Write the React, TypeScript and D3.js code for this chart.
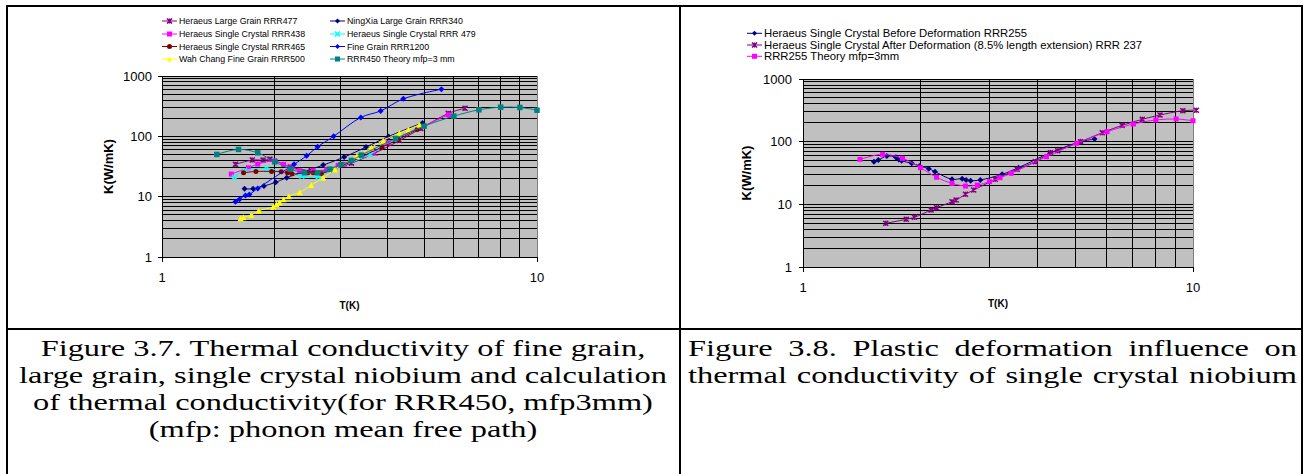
import React, { useEffect, useRef } from 'react';
import * as d3 from 'd3';

// ---------- Figure 3.7 : T (K) / K (W/mK) per series ----------
const largeGrain477T = [1.57, 1.74, 1.86, 1.94, 2.2, 2.5, 2.8, 3.2, 3.7, 4.3, 4.9, 5.8, 6.43];
const largeGrain477K = [34.3, 40.4, 40.4, 41.9, 31, 27, 28, 36, 53, 85, 135, 240, 293];

const ningXia340T = [1.66, 1.75, 1.87, 2.01, 2.15, 2.69, 3.06, 3.5, 4.02, 4.95];
const ningXia340K = [13.5, 13.5, 15.0, 17.3, 20.6, 33.4, 45.3, 66.3, 99.6, 167];

const single438T = [1.53, 1.7, 1.8, 2.0, 2.11, 2.22, 2.33, 2.53, 2.75, 2.95, 3.07, 3.66, 4.01, 5.8];
const single438K = [23.7, 30.1, 34.7, 39.3, 34.3, 30.6, 26.9, 26.9, 28, 33, 34.3, 54.8, 78, 227];

const single479T = [1.56, 1.66, 1.9, 2.36, 2.61, 2.86, 3.59, 4.3];
const single479K = [20.9, 26.9, 29.4, 21.9, 21.3, 28.3, 50.2, 100];

const single465T = [1.65, 1.78, 1.96, 2.08, 2.16, 2.22, 2.45, 2.53, 2.66, 3.86, 4.27, 4.79];
const single465K = [24.9, 26.2, 26.2, 25.9, 24.9, 23.9, 24.9, 24.9, 24.3, 66.3, 88.9, 130];

const fine1200T = [1.57, 1.61, 1.67, 1.71, 1.8, 2.25, 2.43, 2.6, 2.87, 3.39, 3.83, 4.4, 5.56];
const fine1200K = [8.2, 9.1, 10.5, 10.9, 13.7, 34.3, 47.5, 67, 100, 206, 264, 418, 604];

const wahChang500T = [1.62, 1.65, 1.73, 1.81, 1.98, 2.02, 2.06, 2.11, 2.18, 2.33, 2.5, 2.69, 2.89, 3.31, 3.62, 3.89, 4.3, 4.54, 4.86];
const wahChang500K = [4.37, 4.54, 4.96, 5.84, 6.8, 7.54, 8.05, 9.02, 10.2, 11.8, 15.6, 20.6, 28.3, 47, 65.5, 85.5, 114, 130, 155];

const theory450T = [1.4, 1.6, 1.8, 2.0, 2.2, 2.4, 2.6, 2.8, 3.0, 3.2, 3.4, 4.2, 5, 6, 7, 8, 9, 10];
const theory450K = [50.1, 60.7, 53.3, 37.8, 28.6, 24.9, 24.9, 28.6, 34, 39.9, 48.9, 92.3, 147.5, 216, 275, 304, 301, 271];

// ---------- Figure 3.8 ----------
const beforeDefT = [1.52, 1.56, 1.64, 1.73, 1.76, 1.79, 1.9, 1.99, 2.1, 2.18, 2.41, 2.56, 2.62, 2.69, 2.85, 3.24, 3.57, 4.31, 5.15, 5.59];
const beforeDefK = [47.9, 50.9, 59, 56.3, 52.1, 49.5, 45.2, 40.9, 37.1, 33.2, 25.1, 25.7, 24.5, 23.8, 24.5, 30.1, 38.5, 66.6, 100, 110];

const afterDefT = [1.63, 1.84, 1.93, 2.13, 2.2, 2.41, 2.47, 2.61, 2.74, 3.11, 3.54, 3.94, 4.31, 4.5, 5.15, 5.85, 6.58, 7.41, 8.23, 9.42, 10.2];
const afterDefK = [4.98, 5.77, 6.21, 8.12, 8.83, 11.0, 11.7, 14.5, 16.9, 25.1, 36.2, 47.9, 66.6, 71.8, 100, 139, 182, 227, 266, 312, 318];

const theory255T = [1.4, 1.6, 1.8, 2.0, 2.2, 2.41, 2.61, 2.8, 3.01, 3.2, 3.42, 4.21, 5.03, 6.02, 7.03, 8.03, 9.05, 10];
const theory255K = [52.3, 62.8, 54.2, 38.4, 27, 21.6, 19.6, 20.3, 23, 26.6, 31.3, 57.5, 94.2, 144, 191, 222, 230, 216];

// tick labels and captions
const kTickLabels = ['1', '10', '100', '1000'];
const tTickLabels = ['1', '10'];
const fig37Caption = [
  'Figure 3.7. Thermal conductivity of fine grain,',
  'large grain, single crystal niobium and calculation',
  'of thermal conductivity(for RRR450, mfp3mm)',
  '(mfp: phonon mean free path)',
];
const fig38Caption = [
  'Figure 3.8. Plastic deformation influence on',
  'thermal conductivity of single crystal niobium',
];

const leftSeries = [
  { name: 'Heraeus Large Grain RRR477', t: largeGrain477T, k: largeGrain477K, color: '#800080', marker: 'star', size: 5 },
  { name: 'NingXia Large Grain RRR340', t: ningXia340T, k: ningXia340K, color: '#000080', marker: 'diamond', size: 6 },
  { name: 'Heraeus Single Crystal RRR438', t: single438T, k: single438K, color: '#ff00ff', marker: 'square', size: 5 },
  { name: 'Heraeus Single Crystal RRR 479', t: single479T, k: single479K, color: '#00ffff', marker: 'x', size: 5 },
  { name: 'Heraeus Single Crystal RRR465', t: single465T, k: single465K, color: '#800000', marker: 'circle', size: 5 },
  { name: 'Fine Grain RRR1200', t: fine1200T, k: fine1200K, color: '#0000ff', marker: 'diamond', size: 6 },
  { name: 'Wah Chang Fine Grain RRR500', t: wahChang500T, k: wahChang500K, color: '#ffff00', marker: 'triangle', size: 6 },
  { name: 'RRR450 Theory mfp=3 mm', t: theory450T, k: theory450K, color: '#008080', marker: 'square', size: 5.5 },
];

const rightSeries = [
  { name: 'Heraeus Single Crystal Before Deformation RRR255', t: beforeDefT, k: beforeDefK, color: '#000080', marker: 'diamond', size: 6 },
  { name: 'Heraeus Single Crystal After Deformation (8.5% length extension) RRR 237', t: afterDefT, k: afterDefK, color: '#800080', marker: 'star', size: 5 },
  { name: 'RRR255 Theory mfp=3mm', t: theory255T, k: theory255K, color: '#ff00ff', marker: 'square', size: 5 },
];

const SANS = '"Liberation Sans", Arial, sans-serif';
const SERIF = '"Liberation Serif", "Times New Roman", serif';

function drawMarker(g, type, x, y, color, size) {
  const h = size / 2;
  if (type === 'diamond') {
    g.append('path').attr('d', `M${x},${y - h}L${x + h},${y}L${x},${y + h}L${x - h},${y}Z`).attr('fill', color);
  } else if (type === 'square') {
    g.append('rect').attr('x', x - h).attr('y', y - h).attr('width', size).attr('height', size).attr('fill', color);
  } else if (type === 'triangle') {
    g.append('path').attr('d', `M${x},${y - h}L${x + h},${y + h}L${x - h},${y + h}Z`).attr('fill', color);
  } else if (type === 'circle') {
    g.append('circle').attr('cx', x).attr('cy', y).attr('r', h).attr('fill', color);
  } else {
    const p = `M${x - h},${y - h}L${x + h},${y + h}M${x - h},${y + h}L${x + h},${y - h}` + (type === 'star' ? `M${x},${y - h}L${x},${y + h}` : '');
    g.append('path').attr('d', p).attr('stroke', color).attr('stroke-width', 1.5).attr('fill', 'none');
  }
}

function drawPlot(root, p, series) {
  const x = d3.scaleLog().domain([1, 10]).range([p.left, p.right]);
  const y = d3.scaleLog().domain([1, 1000]).range([p.bottom, p.top]);
  const g = root.append('g');

  g.append('rect')
    .attr('x', p.left).attr('y', p.top)
    .attr('width', p.right - p.left).attr('height', p.bottom - p.top)
    .attr('fill', '#c0c0c0');

  const grid = g.append('g').attr('stroke', '#000').attr('stroke-width', 1).attr('shape-rendering', 'crispEdges');
  y.ticks().forEach(v => {
    grid.append('line').attr('x1', p.left).attr('x2', p.right).attr('y1', y(v)).attr('y2', y(v));
  });
  x.ticks().filter(v => v > 1 && v < 10).forEach(v => {
    grid.append('line').attr('x1', x(v)).attr('x2', x(v)).attr('y1', p.top).attr('y2', p.bottom);
  });
  // plot area right edge
  grid.append('line').attr('x1', p.right).attr('x2', p.right).attr('y1', p.top).attr('y2', p.bottom).attr('stroke', '#808080');

  // axes with outside major ticks
  grid.append('line').attr('x1', p.left).attr('x2', p.left).attr('y1', p.top).attr('y2', p.bottom);
  grid.append('line').attr('x1', p.left).attr('x2', p.right).attr('y1', p.bottom).attr('y2', p.bottom);
  [1, 10, 100, 1000].forEach((v, i) => {
    grid.append('line').attr('x1', p.left - 4).attr('x2', p.left).attr('y1', y(v)).attr('y2', y(v));
    g.append('text')
      .attr('x', p.yTickRight).attr('y', y(v) + 4.5)
      .attr('text-anchor', 'end')
      .style('font-family', SANS).style('font-size', '13px')
      .text(kTickLabels[i]);
  });
  [1, 10].forEach((v, i) => {
    grid.append('line').attr('x1', x(v)).attr('x2', x(v)).attr('y1', p.bottom).attr('y2', p.bottom + 5);
    g.append('text')
      .attr('x', x(v)).attr('y', p.xTickY)
      .attr('text-anchor', 'middle')
      .style('font-family', SANS).style('font-size', '13px')
      .text(tTickLabels[i]);
  });

  // axis titles
  g.append('text')
    .attr('transform', `translate(${p.yTitleX},${(p.top + p.bottom) / 2}) rotate(-90)`)
    .attr('text-anchor', 'middle')
    .style('font-family', SANS).style('font-size', '13px').style('font-weight', 'bold')
    .text('K(W/mK)');
  g.append('text')
    .attr('x', (p.left + p.right) / 2).attr('y', p.xTitleY)
    .attr('text-anchor', 'middle')
    .style('font-family', SANS).style('font-size', '10px').style('font-weight', 'bold')
    .text('T(K)');

  // series (smoothed lines + markers)
  const line = d3.line().curve(d3.curveCatmullRom.alpha(0.5));
  series.forEach(s => {
    const pts = s.t.map((t, i) => [x(t), y(s.k[i])]);
    g.append('path').attr('d', line(pts)).attr('fill', 'none').attr('stroke', s.color).attr('stroke-width', 1);
    pts.forEach(([px, py]) => drawMarker(g, s.marker, px, py, s.color, s.size));
  });
}

function drawLegendItem(root, s, lx, ly, fontSize) {
  root.append('line').attr('x1', lx).attr('x2', lx + 15).attr('y1', ly).attr('y2', ly)
    .attr('stroke', s.color).attr('stroke-width', 1);
  drawMarker(root, s.marker, lx + 7.5, ly, s.color, Math.min(s.size, 5));
  root.append('text')
    .attr('x', lx + 17).attr('y', ly + fontSize * 0.35)
    .style('font-family', SANS).style('font-size', `${fontSize}px`)
    .text(s.name);
}

function initFigure(svgEl) {
  const svg = d3.select(svgEl);
  svg.selectAll('*').remove();
  svg.append('rect').attr('width', 1304).attr('height', 474).attr('fill', '#fff');

  // ---- left chart ----
  drawPlot(svg, { left: 162, right: 537, top: 76, bottom: 257, yTickRight: 152, xTickY: 281.5, yTitleX: 113, xTitleY: 308.5 }, leftSeries);
  const leftRows = [21, 34, 46.5, 59];
  leftSeries.forEach((s, i) => {
    const col = i % 2;
    const row = Math.floor(i / 2);
    drawLegendItem(svg, s, col === 0 ? 162 : 330, leftRows[row], 8.8);
  });

  // ---- right chart ----
  drawPlot(svg, { left: 803, right: 1193, top: 79, bottom: 267, yTickRight: 792, xTickY: 291.5, yTitleX: 751, xTitleY: 306.5 }, rightSeries);
  const rightRows = [33.3, 45, 56.3];
  rightSeries.forEach((s, i) => drawLegendItem(svg, s, 747, rightRows[i], 11.3));

  // ---- table borders ----
  const borders = svg.append('g').attr('stroke', '#000').attr('stroke-width', 2);
  borders.append('line').attr('x1', 6).attr('x2', 1303).attr('y1', 6).attr('y2', 6);
  borders.append('line').attr('x1', 7).attr('x2', 7).attr('y1', 5).attr('y2', 474);
  borders.append('line').attr('x1', 1302).attr('x2', 1302).attr('y1', 5).attr('y2', 474);
  borders.append('line').attr('x1', 680).attr('x2', 680).attr('y1', 5).attr('y2', 474);
  borders.append('line').attr('x1', 6).attr('x2', 1303).attr('y1', 329).attr('y2', 329);

  // ---- captions ----
  const capSize = 24;
  const sx = 1.35;
  const baselines = [356, 383, 410, 437];
  fig37Caption.forEach((txt, i) => {
    svg.append('text')
      .attr('transform', `translate(343,${baselines[i]}) scale(${sx},1)`)
      .attr('text-anchor', 'middle')
      .style('font-family', SERIF).style('font-size', `${capSize}px`)
      .text(txt);
  });

  // justified caption in the right cell
  const jLeft = 688, jRight = 1297;
  fig38Caption.forEach((txt, i) => {
    const words = txt.split(' ');
    const nodes = words.map(w => svg.append('text')
      .style('font-family', SERIF).style('font-size', `${capSize}px`)
      .text(w));
    const widths = nodes.map(n => n.node().getComputedTextLength() * sx);
    const total = d3.sum(widths);
    const gap = (jRight - jLeft - total) / (words.length - 1);
    let cx = jLeft;
    nodes.forEach((n, j) => {
      n.attr('transform', `translate(${cx},${baselines[i]}) scale(${sx},1)`);
      cx += widths[j] + gap;
    });
  });
}

const App = () => {
  const ref = useRef(null);
  useEffect(() => {
    initFigure(ref.current);
  }, []);
  return (
    <svg ref={ref} width={1304} height={474} style={{ position: 'absolute', left: 0, top: 0, display: 'block' }} />
  );
};

export default App;
